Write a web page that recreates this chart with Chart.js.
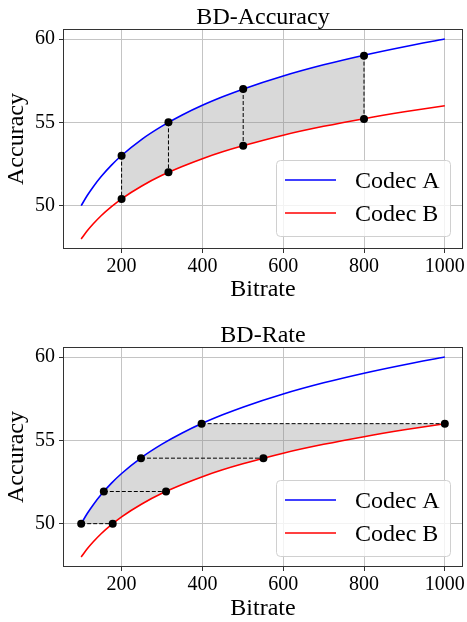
<!DOCTYPE html>
<html>
<head>
<meta charset="utf-8">
<script src="https://cdn.jsdelivr.net/npm/chart.js@4"></script>
<style>
    html, body { margin: 0; padding: 0; background: #fff; }
    #wrap { position: relative; width: 467px; height: 622px; overflow: hidden; }
    .panel { position: absolute; left: 0; width: 467px; }
</style>
</head>
<body>
<div id="wrap">
    <div class="panel" style="top:0;height:311px"><canvas id="acc-chart"></canvas></div>
    <div class="panel" style="top:311px;height:312px"><canvas id="rate-chart"></canvas></div>
</div>
<script>
// Curve samples
const bitrate = [100, 115, 130, 150, 175, 200, 250, 300, 350, 400, 450, 500, 600, 700, 800, 900, 1000];
const codecA = [50.0, 50.61, 51.14, 51.76, 52.43, 53.01, 53.98, 54.77, 55.44, 56.02, 56.53, 56.99, 57.78, 58.45, 59.03, 59.54, 60.0];
const codecB = [48.0, 48.49, 48.91, 49.41, 49.94, 50.41, 51.18, 51.82, 52.35, 52.82, 53.23, 53.59, 54.23, 54.76, 55.22, 55.63, 56.0];

// BD-Accuracy: same bitrate, compare accuracy
const accBitrate = [200, 316, 501, 800];
const accA = [53.0, 55.0, 57.0, 59.0];
const accB = [50.4, 52.0, 53.6, 55.2];

// BD-Rate: same accuracy, compare bitrate
const rateLevels = [50.0, 51.93, 53.93, 56.0];
const rateA = [100, 156, 248, 398];
const rateB = [178, 310, 551, 1000];

const xTicks = [200, 400, 600, 800, 1000];
const yTicks = [50, 55, 60];
const seriesNames = ['Codec A', 'Codec B'];

const FONT = '"Liberation Serif", "Times New Roman", serif';
const BLUE = '#0000ff';
const RED = '#ff0000';

function pts(xs, ys) {
    return xs.map((x, i) => ({ x: x, y: ys[i] }));
}

function within(xs, ys, lo, hi) {
    return pts(xs, ys).filter(p => p.x >= lo && p.x <= hi);
}

function mergeSorted(a, b) {
    const all = [...a, ...b].sort((p, q) => p.x - q.x);
    return all.filter((p, i) => i === 0 || Math.abs(p.x - all[i - 1].x) > 2);
}

// Base curves for both panels
function curveSets() {
    return [
        { data: pts(bitrate, codecA), borderColor: BLUE, borderWidth: 1.6, pointRadius: 0, fill: false, cubicInterpolationMode: 'monotone', order: 2 },
        { data: pts(bitrate, codecB), borderColor: RED, borderWidth: 1.6, pointRadius: 0, fill: false, cubicInterpolationMode: 'monotone', order: 2 }
    ];
}

// Gray band: upper dataset fills down to the next one
function bandSets(upper, lower) {
    return [
        { data: upper, borderColor: 'transparent', borderWidth: 0, pointRadius: 0, cubicInterpolationMode: 'monotone',
          backgroundColor: 'rgba(128,128,128,0.3)', fill: '+1', order: 3 },
        { data: lower, borderColor: 'transparent', borderWidth: 0, pointRadius: 0, cubicInterpolationMode: 'monotone',
          fill: false, order: 3 }
    ];
}

function dashSets(segments) {
    return segments.map(seg => ({
        data: seg, borderColor: '#000', borderWidth: 1, borderDash: [4, 2],
        pointRadius: 0, fill: false, order: 1
    }));
}

function markerSet(points) {
    return {
        data: points, showLine: false, pointRadius: 4, pointBorderWidth: 0,
        pointBackgroundColor: '#000', pointBorderColor: '#000', order: 0
    };
}

// Title, frame and the in-plot legend
const framePlugin = {
    id: 'frame',
    afterDatasetsDraw(chart) {
        const { ctx, chartArea: a } = chart;
        ctx.save();
        ctx.strokeStyle = '#333';
        ctx.lineWidth = 1;
        ctx.strokeRect(Math.round(a.left) + 0.5, Math.round(a.top) + 0.5,
            Math.round(a.right - a.left) - 1, Math.round(a.bottom - a.top) - 1);
        ctx.restore();
    },
    afterDraw(chart, args, opts) {
        const { ctx, chartArea: a } = chart;
        ctx.save();
        ctx.fillStyle = '#000';
        ctx.font = '24px ' + FONT;
        ctx.textAlign = 'center';
        ctx.textBaseline = 'alphabetic';
        ctx.fillText(opts.title, (a.left + a.right) / 2, a.top - 5);

        // legend box
        const w = 174, h = 76;
        const x0 = a.right - 13 - w;
        const y0 = a.bottom - opts.legendGap - h;
        ctx.beginPath();
        ctx.roundRect(x0 + 0.5, y0 + 0.5, w, h, 4);
        ctx.fillStyle = 'rgba(255,255,255,0.8)';
        ctx.fill();
        ctx.strokeStyle = '#d0d0d0';
        ctx.lineWidth = 1;
        ctx.stroke();

        const colors = [BLUE, RED];
        const rows = [y0 + 20, y0 + 53];
        ctx.font = '24px ' + FONT;
        ctx.textAlign = 'left';
        seriesNames.forEach((name, i) => {
            ctx.beginPath();
            ctx.strokeStyle = colors[i];
            ctx.lineWidth = 1.6;
            ctx.moveTo(x0 + 9, rows[i]);
            ctx.lineTo(x0 + 60, rows[i]);
            ctx.stroke();
            ctx.fillStyle = '#000';
            ctx.fillText(name, x0 + 79, rows[i] + 8);
        });
        ctx.restore();
    }
};

function makeChart(canvasId, title, datasets, layout) {
    const ctx = document.getElementById(canvasId).getContext('2d');
    return new Chart(ctx, {
        type: 'line',
        data: { datasets: datasets },
        options: {
            responsive: true,
            maintainAspectRatio: false,
            animation: false,
            events: [],
            layout: { padding: { left: 0, right: 4, top: layout.top, bottom: 0 } },
            plugins: {
                legend: { display: false },
                tooltip: { enabled: false },
                frame: { title: title, legendGap: layout.legendGap }
            },
            scales: {
                x: {
                    type: 'linear',
                    min: 55,
                    max: 1045,
                    afterBuildTicks: s => { s.ticks = xTicks.map(v => ({ value: v })); },
                    afterFit: s => { s.height = layout.xHeight; },
                    grid: { color: '#c4c4c4', lineWidth: 1, tickColor: '#333', tickLength: 4 },
                    border: { display: false },
                    ticks: { color: '#000', font: { family: FONT, size: 20 }, padding: 2, maxRotation: 0, autoSkip: false,
                             callback: v => String(v) },
                    title: { display: true, text: 'Bitrate', color: '#000',
                             font: { family: FONT, size: 24, lineHeight: 1.2 },
                             padding: { top: 0, bottom: layout.xTitlePad } }
                },
                y: {
                    type: 'linear',
                    min: 47.4,
                    max: 60.6,
                    afterBuildTicks: s => { s.ticks = yTicks.map(v => ({ value: v })); },
                    afterFit: s => { s.width = 63; },
                    grid: { color: '#c4c4c4', lineWidth: 1, tickColor: '#333', tickLength: 4 },
                    border: { display: false },
                    ticks: { color: '#000', font: { family: FONT, size: 20 }, padding: 4, autoSkip: false,
                             callback: v => String(v) },
                    title: { display: true, text: 'Accuracy', color: '#000',
                             font: { family: FONT, size: 24, lineHeight: 1.2 },
                             padding: { top: 2, bottom: 0 } }
                }
            }
        },
        plugins: [framePlugin]
    });
}

// Top panel: BD-Accuracy
const accUpper = mergeSorted(within(bitrate, codecA, accBitrate[0], accBitrate[accBitrate.length - 1]), pts(accBitrate, accA));
const accLower = mergeSorted(within(bitrate, codecB, accBitrate[0], accBitrate[accBitrate.length - 1]), pts(accBitrate, accB));
const accSegments = accBitrate.map((x, i) => [{ x: x, y: accA[i] }, { x: x, y: accB[i] }]);

makeChart('acc-chart', 'BD-Accuracy', [
    ...bandSets(accUpper, accLower),
    ...curveSets(),
    ...dashSets(accSegments),
    markerSet([...pts(accBitrate, accA), ...pts(accBitrate, accB)])
], { top: 29, xHeight: 62, xTitlePad: 7, legendGap: 13 });

// Bottom panel: BD-Rate
const topLevel = rateLevels[rateLevels.length - 1];
const lowLevel = rateLevels[0];
const rateUpper = [
    ...within(bitrate, codecA, bitrate[0], rateA[rateA.length - 1] - 1),
    { x: rateA[rateA.length - 1], y: topLevel },
    { x: rateB[rateB.length - 1], y: topLevel }
];
const rateLower = [
    { x: bitrate[0], y: lowLevel },
    { x: rateB[0], y: lowLevel },
    ...within(bitrate, codecB, rateB[0] + 1, bitrate[bitrate.length - 1])
];
const rateSegments = rateLevels.map((y, i) => [{ x: rateA[i], y: y }, { x: rateB[i], y: y }]);

makeChart('rate-chart', 'BD-Rate', [
    ...bandSets(rateUpper, rateLower),
    ...curveSets(),
    ...dashSets(rateSegments),
    markerSet([...pts(rateA, rateLevels), ...pts(rateB, rateLevels)])
], { top: 36, xHeight: 56, xTitlePad: 0, legendGap: 11 });
</script>
</body>
</html>
